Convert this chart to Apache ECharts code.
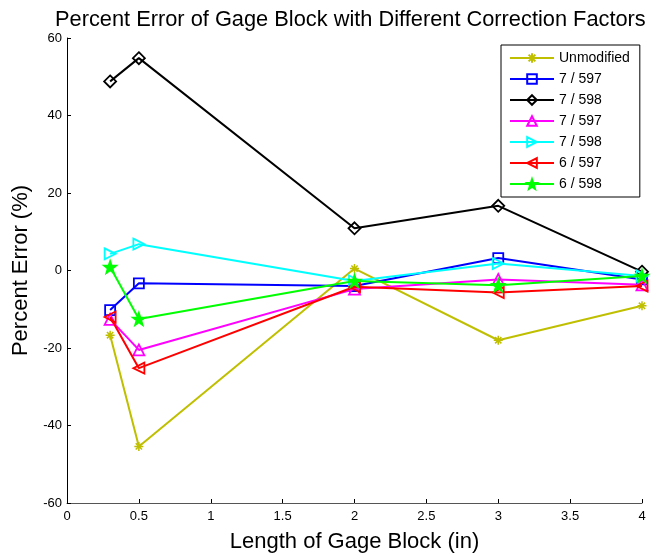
<!DOCTYPE html>
<html>
<head>
<meta charset="utf-8">
<script src="https://cdn.jsdelivr.net/npm/echarts@6/dist/echarts.min.js"></script>
<style>html,body{margin:0;padding:0;background:#fff}#c{width:655px;height:558px}</style>
</head>
<body>
<div id="c"></div>
<script>
var xValues = [0.3, 0.5, 2, 3, 4];
var seriesNames = ['Unmodified', '7 / 597', '7 / 598', '7 / 597', '7 / 598', '6 / 597', '6 / 598'];
var unmodified = [-16.7, -45.4, 0.5, -18.0, -9.1];
var s7_597a = [-10.2, -3.3, -4.0, 3.2, -2.3];
var s7_598a = [48.8, 54.8, 10.9, 16.7, -0.3];
var s7_597b = [-12.6, -20.5, -4.8, -2.3, -3.7];
var s7_598b = [4.3, 6.8, -2.7, 1.8, -1.4];
var s6_597 = [-12.0, -25.2, -4.2, -5.7, -4.0];
var s6_598 = [0.9, -12.5, -2.7, -3.8, -1.4];
var xTicks = [0, 0.5, 1, 1.5, 2, 2.5, 3, 3.5, 4];
var yTicks = [-60, -40, -20, 0, 20, 40, 60];

var colors = ['#BFBF00', '#0000FF', '#000000', '#FF00FF', '#00FFFF', '#FF0000', '#00FF00'];
var allData = [unmodified, s7_597a, s7_598a, s7_597b, s7_598b, s6_597, s6_598];
var asterisk = 'path://M0,-10L0,10M-10,0L10,0M-7,-7L7,7M-7,7L7,-7';
var triRight = 'path://M-8,-9L9,0L-8,9Z';
var triLeft = 'path://M8,-9L-9,0L8,9Z';
var star = 'path://M0,-10L2.35,-3.24L9.51,-3.09L3.8,1.24L5.88,8.09L0,4L-5.88,8.09L-3.8,1.24L-9.51,-3.09L-2.35,-3.24Z';
var symbols = [asterisk, 'rect', 'diamond', 'triangle', triRight, triLeft, star];
var sizes = [9, 10, 12, 11, 11, 11, 12];
var font = 'Liberation Sans, Arial, sans-serif';

// unique internal ids (legend shows the real name)
var ids = seriesNames.map(function (n, i) { return n + '#' + i; });

var series = allData.map(function (vals, i) {
  var filled = (i === 6);
  var isAst = (i === 0);
  return {
    name: ids[i],
    type: 'line',
    data: xValues.map(function (x, j) { return [x, vals[j]]; }),
    symbol: symbols[i],
    symbolSize: sizes[i],
    showAllSymbol: true,
    lineStyle: { color: colors[i], width: 2 },
    itemStyle: {
      color: (filled || isAst) ? colors[i] : 'rgba(255,255,255,0)',
      borderColor: colors[i],
      borderWidth: isAst ? 1.5 : 1.8
    },
    emphasis: { disabled: true },
    animation: false,
    z: 2 + i
  };
});

var chart = echarts.init(document.getElementById('c'), null, { renderer: 'canvas' });
chart.setOption({
  backgroundColor: '#fff',
  animation: false,
  title: {
    text: 'Percent Error of Gage Block with Different Correction Factors',
    left: 50, top: 4,
    textStyle: { fontFamily: font, fontSize: 21.8, fontWeight: 'normal', color: '#000' }
  },
  grid: { left: 67, right: 13, top: 38, bottom: 49, containLabel: false },
  legend: {
    orient: 'vertical',
    left: 501, top: 45,
    width: 136,
    padding: [6, 10, 6, 8],
    itemWidth: 44, itemHeight: 12, itemGap: 7,
    borderColor: '#000', borderWidth: 1, borderRadius: 0,
    backgroundColor: '#fff',
    formatter: function (n) { return n.split('#')[0]; },
    textStyle: { fontFamily: font, fontSize: 14, color: '#000' },
    data: ids.map(function (n) { return { name: n }; })
  },
  xAxis: {
    type: 'value', min: xTicks[0], max: xTicks[xTicks.length - 1], interval: 0.5,
    name: 'Length of Gage Block (in)', nameLocation: 'middle', nameGap: 28,
    nameTextStyle: { fontFamily: font, fontSize: 22, color: '#000' },
    axisLine: { show: true, onZero: false, lineStyle: { color: '#555', width: 1 } },
    axisTick: { show: true, inside: true, length: 4, lineStyle: { color: '#000' } },
    axisLabel: { fontFamily: font, fontSize: 13, color: '#000', margin: 7 },
    splitLine: { show: false }
  },
  yAxis: {
    type: 'value', min: yTicks[0], max: yTicks[yTicks.length - 1], interval: 20,
    name: 'Percent Error (%)', nameLocation: 'middle', nameGap: 30,
    nameTextStyle: { fontFamily: font, fontSize: 22, color: '#000' },
    axisLine: { show: true, onZero: false, lineStyle: { color: '#000', width: 1 } },
    axisTick: { show: true, inside: true, length: 4, lineStyle: { color: '#000' } },
    axisLabel: { fontFamily: font, fontSize: 13, color: '#000', margin: 5 },
    splitLine: { show: false }
  },
  series: series
});
</script>
</body>
</html>
